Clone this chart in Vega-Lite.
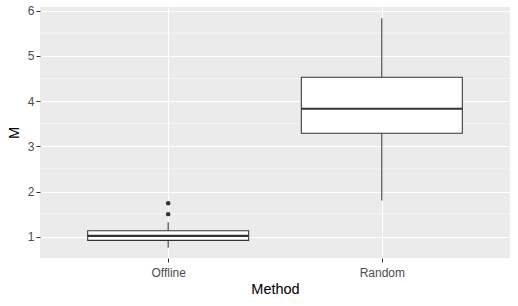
{
  "$schema": "https://vega.github.io/schema/vega-lite/v6.json",
  "width": 470,
  "height": 251,
  "autosize": {"type": "none"},
  "padding": {"left": 40, "top": 7, "right": 8, "bottom": 48},
  "background": "white",
  "config": {
    "view": {"fill": "#EBEBEB", "stroke": null},
    "font": "Liberation Sans",
    "axis": {
      "domain": false,
      "tickColor": "#333333",
      "tickSize": 4,
      "tickWidth": 1,
      "labelColor": "#4D4D4D",
      "labelFontSize": 12,
      "labelFont": "Liberation Sans",
      "labelPadding": 2,
      "titleFont": "Liberation Sans",
      "titleFontSize": 14.5,
      "titleFontWeight": "normal",
      "titleColor": "#000000",
      "gridColor": "#FFFFFF",
      "gridWidth": 1.1
    }
  },
  "datasets": {
    "stats": [
      {"Method": "Offline", "lower": 0.757, "q1": 0.92, "median": 1.02, "q3": 1.133, "upper": 1.32},
      {"Method": "Random", "lower": 1.80, "q1": 3.288, "median": 3.83, "q3": 4.527, "upper": 5.83}
    ],
    "outliers": [
      {"Method": "Offline", "M": 1.74},
      {"Method": "Offline", "M": 1.50}
    ],
    "minor": [
      {"y": 1.5}, {"y": 2.5}, {"y": 3.5}, {"y": 4.5}, {"y": 5.5}
    ]
  },
  "layer": [
    {
      "data": {"name": "minor"},
      "mark": {"type": "rule", "color": "#FFFFFF", "strokeWidth": 0.55},
      "encoding": {
        "y": {"field": "y", "type": "quantitative"}
      }
    },
    {
      "data": {"name": "stats"},
      "mark": {"type": "rule", "color": "#333333", "strokeWidth": 1.05},
      "encoding": {
        "x": {
          "field": "Method",
          "type": "nominal",
          "scale": {"type": "point", "padding": 0.6},
          "axis": {"title": "Method", "labelAngle": 0, "grid": true, "labelPadding": 5, "titlePadding": 4}
        },
        "y": {"field": "lower", "type": "quantitative"},
        "y2": {"field": "upper"}
      }
    },
    {
      "data": {"name": "stats"},
      "mark": {"type": "bar", "fill": "#FFFFFF", "stroke": "#333333", "strokeWidth": 1.05, "size": 161},
      "encoding": {
        "x": {"field": "Method", "type": "nominal"},
        "y": {"field": "q1", "type": "quantitative"},
        "y2": {"field": "q3"}
      }
    },
    {
      "data": {"name": "stats"},
      "mark": {"type": "tick", "color": "#333333", "thickness": 2.1, "size": 161, "opacity": 1},
      "encoding": {
        "x": {"field": "Method", "type": "nominal"},
        "y": {"field": "median", "type": "quantitative"}
      }
    },
    {
      "data": {"name": "outliers"},
      "mark": {"type": "circle", "color": "#333333", "size": 20, "opacity": 1},
      "encoding": {
        "x": {"field": "Method", "type": "nominal"},
        "y": {"field": "M", "type": "quantitative"}
      }
    }
  ],
  "resolve": {"scale": {"x": "shared", "y": "shared"}},
  "encoding": {
    "y": {
      "type": "quantitative",
      "scale": {"domain": [0.53, 6.08], "nice": false, "zero": false},
      "axis": {"title": "M", "values": [1, 2, 3, 4, 5, 6], "grid": true, "titlePadding": 6}
    }
  }
}
